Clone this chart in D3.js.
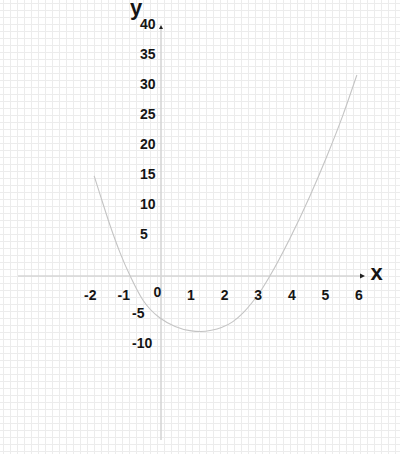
<!DOCTYPE html>
<html>
<head>
<meta charset="utf-8">
<script src="https://cdn.jsdelivr.net/npm/d3@7"></script>
<style>
  html, body { margin: 0; padding: 0; background: #fff; }
  svg { display: block; }
  text { font-family: "Liberation Sans", Arial, sans-serif; font-weight: bold; fill: #151515; }
</style>
</head>
<body>
<svg id="chart" width="400" height="454"></svg>
<script>
// ---- data ----
const xTicks = [-2, -1, 0, 1, 2, 3, 4, 5, 6];
const yTicksPos = [40, 35, 30, 25, 20, 15, 10, 5];
const yTicksNeg = [-5, -10];
// curve points
const curveX = [-1.99, -1.82, -1.52, -1.22, -0.91, -0.54, -0.33, -0.03, 0.42, 0.86, 1.19, 1.5, 1.8, 2.14, 2.45, 2.70, 3.0, 3.24, 3.84, 4.43, 4.94, 5.42, 5.83];
const curveY = [16.7, 13.7, 8.5, 3.9, -0.1, -4.0, -5.5, -7.0, -8.4, -9.1, -9.25, -9.05, -8.6, -7.6, -6.1, -4.5, -2.2, 0, 6.3, 13.3, 20.0, 26.9, 33.5];

// ---- layout ----
const W = 400, H = 454;
const svg = d3.select("#chart");
const x = d3.scaleLinear().domain([-2, 6]).range([161 - 2 * 33.6, 161 + 6 * 33.6]);
const y = d3.scaleLinear().domain([-10, 40]).range([276 + 60, 276 - 240]);

// grid
const g = svg.append("g").attr("stroke", "#ececec").attr("stroke-width", 1);
d3.range(3.5, W, 7).forEach(v => g.append("line").attr("x1", v).attr("x2", v).attr("y1", 0).attr("y2", H));
d3.range(3.5, H, 7).forEach(v => g.append("line").attr("y1", v).attr("y2", v).attr("x1", 0).attr("x2", W));

// axes
const x0 = x(0), y0 = y(0);
svg.append("line").attr("x1", 18).attr("x2", 360).attr("y1", y0).attr("y2", y0)
  .attr("stroke", "#d6d6d6").attr("stroke-width", 1.6);
svg.append("line").attr("x1", x0).attr("x2", x0).attr("y1", 28).attr("y2", 440)
  .attr("stroke", "#d6d6d6").attr("stroke-width", 1.6);
// arrowheads
svg.append("path").attr("d", `M${360},${y0 - 2.5}L${365},${y0}L${360},${y0 + 2.5}Z`).attr("fill", "#222");
svg.append("path").attr("d", `M${x0 - 2},${29}L${x0},${25}L${x0 + 2},${29}Z`).attr("fill", "#222");

// curve
const pts = curveX.map((v, i) => [v, curveY[i]]);
svg.append("path").datum(pts)
  .attr("fill", "none").attr("stroke", "#c4c4c4").attr("stroke-width", 1.1)
  .attr("d", d3.line().x(d => x(d[0])).y(d => y(d[1])).curve(d3.curveMonotoneX));

// x tick labels
svg.append("g").selectAll("text").data(xTicks).join("text")
  .attr("x", d => x(d) - 3.6)
  .attr("y", d => y0 + (d === 0 ? 16 : 19))
  .attr("text-anchor", "middle").attr("dominant-baseline", "central")
  .attr("font-size", 14)
  .text(d => d);

// y tick labels
svg.append("g").selectAll("text").data(yTicksPos).join("text")
  .attr("x", x0 - 21).attr("y", d => y(d) - 12.5)
  .attr("text-anchor", "start").attr("dominant-baseline", "central")
  .attr("font-size", 14).text(d => d);
svg.append("g").selectAll("text").data(yTicksNeg).join("text")
  .attr("x", x0 - 29).attr("y", d => y(d) + 7)
  .attr("text-anchor", "start").attr("dominant-baseline", "central")
  .attr("font-size", 14).text(d => d);

// axis titles
svg.append("text").attr("x", 136).attr("y", 15).attr("text-anchor", "middle")
  .attr("font-size", 22).text("y");
svg.append("text").attr("x", 376.5).attr("y", 280).attr("text-anchor", "middle")
  .attr("font-size", 22).text("x");
</script>
</body>
</html>
